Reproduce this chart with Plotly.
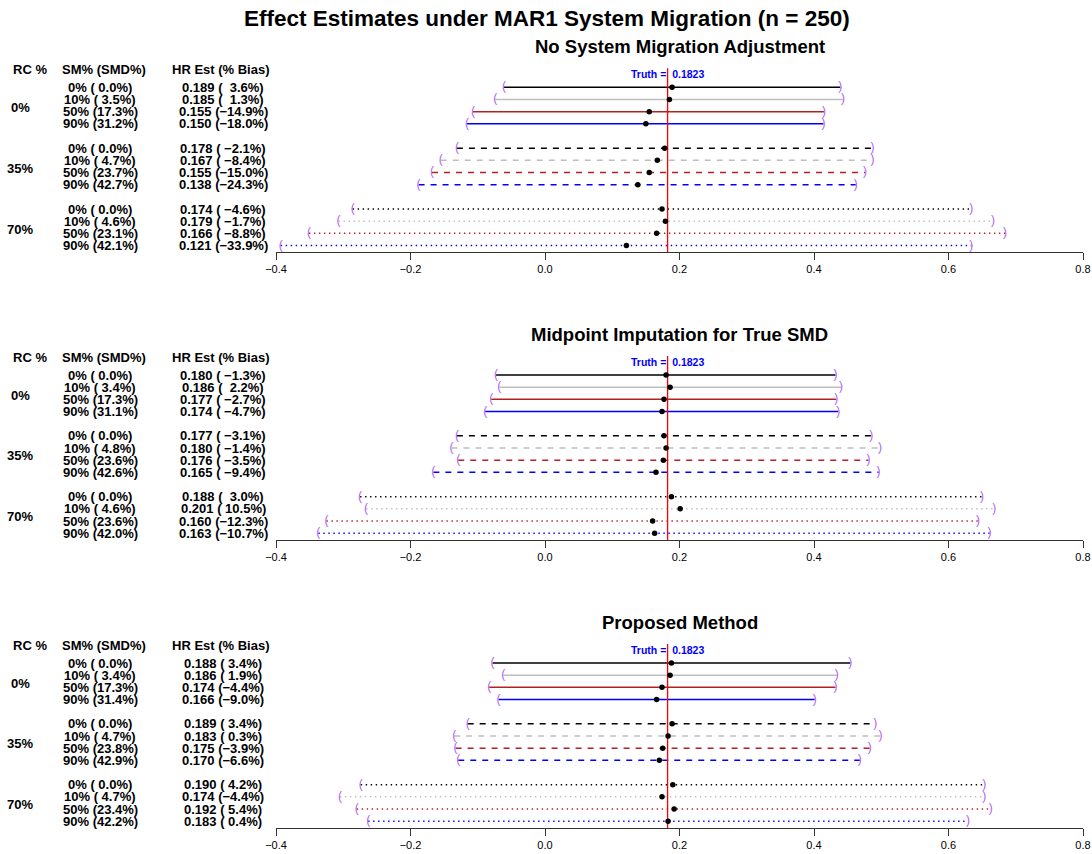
import plotly.graph_objects as go

# ---- data -------------------------------------------------------------
truth = 0.1823
rc_levels = ["0%", "35%", "70%"]
sm_levels = ["0%", "10%", "50%", "90%"]
panel_titles = [
    "No System Migration Adjustment",
    "Midpoint Imputation for True SMD",
    "Proposed Method",
]

# No adjustment
smd_noadj = [0.0, 3.5, 17.3, 31.2, 0.0, 4.7, 23.7, 42.7, 0.0, 4.6, 23.1, 42.1]
hr_noadj = [0.189, 0.185, 0.155, 0.150, 0.178, 0.167, 0.155, 0.138, 0.174, 0.179, 0.166, 0.121]
bias_noadj = [3.6, 1.3, -14.9, -18.0, -2.1, -8.4, -15.0, -24.3, -4.6, -1.7, -8.8, -33.9]
lo_noadj = [-0.061, -0.074, -0.107, -0.116, -0.131, -0.155, -0.168, -0.188, -0.286, -0.307, -0.351, -0.393]
hi_noadj = [0.439, 0.443, 0.415, 0.414, 0.487, 0.487, 0.476, 0.462, 0.634, 0.666, 0.684, 0.634]

# Midpoint imputation
smd_mid = [0.0, 3.4, 17.3, 31.1, 0.0, 4.8, 23.6, 42.6, 0.0, 4.6, 23.6, 42.0]
hr_mid = [0.180, 0.186, 0.177, 0.174, 0.177, 0.180, 0.176, 0.165, 0.188, 0.201, 0.160, 0.163]
bias_mid = [-1.3, 2.2, -2.7, -4.7, -3.1, -1.4, -3.5, -9.4, 3.0, 10.5, -12.3, -10.7]
lo_mid = [-0.073, -0.068, -0.080, -0.089, -0.131, -0.139, -0.129, -0.166, -0.275, -0.266, -0.325, -0.337]
hi_mid = [0.432, 0.440, 0.433, 0.436, 0.485, 0.498, 0.481, 0.496, 0.650, 0.668, 0.644, 0.661]

# Proposed method
smd_prop = [0.0, 3.4, 17.3, 31.4, 0.0, 4.7, 23.8, 42.9, 0.0, 4.7, 23.4, 42.2]
hr_prop = [0.188, 0.186, 0.174, 0.166, 0.189, 0.183, 0.175, 0.170, 0.190, 0.174, 0.192, 0.183]
bias_prop = [3.4, 1.9, -4.4, -9.0, 3.4, 0.3, -3.9, -6.6, 4.2, -4.4, 5.4, 0.4]
lo_prop = [-0.078, -0.062, -0.083, -0.069, -0.115, -0.135, -0.133, -0.129, -0.274, -0.305, -0.280, -0.263]
hi_prop = [0.454, 0.434, 0.432, 0.401, 0.491, 0.499, 0.483, 0.468, 0.653, 0.653, 0.663, 0.629]

x_ticks = [-0.4, -0.2, 0.0, 0.2, 0.4, 0.6, 0.8]

# ---- styling ----------------------------------------------------------
W, H = 1092, 854
FONT = "Liberation Sans, Arial, Helvetica, sans-serif"
sm_colors = ["#000000", "#BEBEBE", "#B22222", "#0000FF"]
rc_dash = ["solid", "6px,6px", "1.4px,3.6px"]
bracket_color = "#B15CF5"

row_pos = [1, 2, 3, 4, 6, 7, 8, 9, 11, 12, 13, 14]
row_px = 12.17          # vertical distance between rows
y_top, y_bot = -1.0, 14.55
first_row_px = [87.3, 375.0, 663.0]
x_left_px, x_right_px = 276, 1083


def px_x(p):
    return p / W


def px_y(p):
    return 1 - p / H


def fmt_num(v, width):
    s = f"{v:.1f}".replace("-", "\u2212")
    return "\u00a0" * (width - len(s)) + s


panels = [
    (smd_noadj, hr_noadj, bias_noadj, lo_noadj, hi_noadj),
    (smd_mid, hr_mid, bias_mid, lo_mid, hi_mid),
    (smd_prop, hr_prop, bias_prop, lo_prop, hi_prop),
]

fig = go.Figure()
annotations = []
layout_axes = {}

for p, (smd, hr, bias, lo, hi) in enumerate(panels):
    sfx = "" if p == 0 else str(p + 1)
    xa, ya = "x" + sfx, "y" + sfx
    y1 = first_row_px[p]
    top_px = y1 - (1 - y_top) * row_px
    bot_px = y1 + (y_bot - 1) * row_px

    layout_axes["xaxis" + sfx] = dict(
        domain=[px_x(x_left_px), px_x(x_right_px)],
        range=[-0.4, 0.8], anchor=ya, automargin=False,
        showline=True, linecolor="#333333", linewidth=1,
        ticks="outside", ticklen=7, tickcolor="#333333",
        tickvals=x_ticks,
        ticktext=[f"{t:.1f}".replace("-", "\u2212") for t in x_ticks],
        tickfont=dict(family=FONT, size=11, color="#000000"),
        showgrid=False, zeroline=False, fixedrange=True,
    )
    layout_axes["yaxis" + sfx] = dict(
        domain=[px_y(bot_px), px_y(top_px)], automargin=False,
        range=[y_bot, y_top], anchor=xa, visible=False, fixedrange=True,
    )

    # confidence intervals
    for i, yv in enumerate(row_pos):
        rc, sm = divmod(i, 4)
        fig.add_trace(go.Scatter(
            x=[lo[i], hi[i]], y=[yv, yv], mode="lines",
            line=dict(color=sm_colors[sm], width=1.5, dash=rc_dash[rc]),
            xaxis=xa, yaxis=ya, hoverinfo="skip", showlegend=False,
        ))

    # interval end brackets
    fig.add_trace(go.Scatter(
        x=lo, y=row_pos, mode="text", text=["("] * len(lo),
        textposition="middle center",
        textfont=dict(family=FONT, size=12, color=bracket_color),
        xaxis=xa, yaxis=ya, cliponaxis=False, hoverinfo="skip", showlegend=False,
    ))
    fig.add_trace(go.Scatter(
        x=hi, y=row_pos, mode="text", text=[")"] * len(hi),
        textposition="middle center",
        textfont=dict(family=FONT, size=12, color=bracket_color),
        xaxis=xa, yaxis=ya, cliponaxis=False, hoverinfo="skip", showlegend=False,
    ))

    # reference line at the true value
    fig.add_trace(go.Scatter(
        x=[truth, truth], y=[-0.56, y_bot], mode="lines",
        line=dict(color="#FF0000", width=1.3),
        xaxis=xa, yaxis=ya, hoverinfo="skip", showlegend=False,
    ))

    # point estimates
    fig.add_trace(go.Scatter(
        x=hr, y=row_pos, mode="markers",
        marker=dict(color="#000000", size=5.5),
        xaxis=xa, yaxis=ya, cliponaxis=False, showlegend=False,
    ))

    # truth label
    annotations.append(dict(
        x=truth, y=-0.07, xref=xa, yref=ya, showarrow=False,
        text=f"<b>Truth =\u00a0\u00a0{truth:.4f}</b>",
        font=dict(family=FONT, size=10.5, color="#0000FF"),
        xanchor="center", yanchor="middle",
    ))

    # panel title
    annotations.append(dict(
        x=px_x((x_left_px + x_right_px) / 2), y=px_y(y1 - 40.5),
        xref="paper", yref="paper", showarrow=False,
        text=f"<b>{panel_titles[p]}</b>",
        font=dict(family=FONT, size=18.5, color="#000000"),
        xanchor="center", yanchor="middle",
    ))

    # column headers
    for label, cx in [("RC %", 30), ("SM% (SMD%)", 104), ("HR Est (% Bias)", 221)]:
        annotations.append(dict(
            x=px_x(cx), y=px_y(y1 - 17.5), xref="paper", yref="paper",
            showarrow=False, text=f"<b>{label}</b>",
            font=dict(family=FONT, size=13, color="#000000"),
            xanchor="center", yanchor="middle",
        ))

    # RC group labels
    for g, rc_label in enumerate(rc_levels):
        annotations.append(dict(
            x=px_x(20), y=row_pos[g * 4 + 1] + 0.65, xref="paper", yref=ya,
            showarrow=False, text=f"<b>{rc_label}</b>",
            font=dict(family=FONT, size=13, color="#000000"),
            xanchor="center", yanchor="middle",
        ))

    # row labels: SM% (SMD%) and HR estimate (% bias)
    smd_w = max(len(f"{v:.1f}") for v in smd)
    bias_w = max(len(f"{v:.1f}") for v in bias)
    for i, yv in enumerate(row_pos):
        sm = i % 4
        annotations.append(dict(
            x=px_x(100), y=yv, xref="paper", yref=ya, showarrow=False,
            text=f"<b>{sm_levels[sm]} ({fmt_num(smd[i], smd_w)}%)</b>",
            font=dict(family=FONT, size=13, color="#000000"),
            xanchor="center", yanchor="middle",
        ))
        annotations.append(dict(
            x=px_x(223), y=yv, xref="paper", yref=ya, showarrow=False,
            text=f"<b>{hr[i]:.3f} ({fmt_num(bias[i], bias_w)}%)</b>",
            font=dict(family=FONT, size=13, color="#000000"),
            xanchor="center", yanchor="middle",
        ))

# main title
annotations.append(dict(
    x=px_x(547), y=px_y(18), xref="paper", yref="paper", showarrow=False,
    text="<b>Effect Estimates under MAR1 System Migration (n = 250)</b>",
    font=dict(family=FONT, size=22.5, color="#000000"),
    xanchor="center", yanchor="middle",
))

fig.update_layout(
    width=W, height=H,
    margin=dict(l=0, r=0, t=0, b=0, autoexpand=False),
    paper_bgcolor="#FFFFFF", plot_bgcolor="#FFFFFF",
    annotations=annotations,
    showlegend=False,
    font=dict(family=FONT, color="#000000"),
    **layout_axes,
)

fig.write_html("out.html")
